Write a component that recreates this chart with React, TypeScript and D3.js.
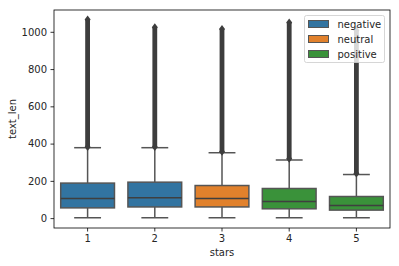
import * as React from 'react';
import { useEffect, useRef } from 'react';
import * as d3 from 'd3';

// Data
const stars = ['1', '2', '3', '4', '5'];
const hue = ['negative', 'negative', 'neutral', 'positive', 'positive'];
const whiskerLow = [2, 2, 2, 2, 2];
const q1 = [55, 60, 60, 50, 43];
const median = [105, 110, 105, 89, 68];
const q3 = [188, 193, 175, 159, 116];
const whiskerHigh = [378, 378, 351, 312, 234];
const flierMin = [382, 382, 356, 318, 240];
const flierMax = [1066, 1025, 1015, 1050, 1008];
const yTicks = [0, 200, 400, 600, 800, 1000];
const legendLabels = ['negative', 'neutral', 'positive'];
const colors: Record<string, string> = {
  negative: '#3274a1',
  neutral: '#e1812c',
  positive: '#3a923a',
};

const W = 399;
const H = 266;

const App: React.FC = () => {
  const svgRef = useRef<SVGSVGElement>(null);

  useEffect(() => {
    const svg = d3.select(svgRef.current);
    svg.selectAll('*').remove();

    const margin = { top: 10, right: 9, bottom: 38, left: 54 };
    const x = d3.scaleBand().domain(stars).range([margin.left, W - margin.right]).padding(0);
    const y = d3.scaleLinear().domain([-53, 1117]).range([H - margin.bottom, margin.top]);

    const font = 'DejaVu Sans, sans-serif';
    const edge = '#555555';
    const boxW = x.bandwidth() * 0.8;
    const capW = boxW / 2;

    const g = svg.append('g');

    stars.forEach((s, i) => {
      const cx = (x(s) ?? 0) + x.bandwidth() / 2;
      // whiskers
      g.append('line').attr('x1', cx).attr('x2', cx).attr('y1', y(q1[i])).attr('y2', y(whiskerLow[i]))
        .attr('stroke', edge).attr('stroke-width', 1.5);
      g.append('line').attr('x1', cx).attr('x2', cx).attr('y1', y(q3[i])).attr('y2', y(whiskerHigh[i]))
        .attr('stroke', edge).attr('stroke-width', 1.5);
      // caps
      [whiskerLow[i], whiskerHigh[i]].forEach(v => {
        g.append('line').attr('x1', cx - capW / 2).attr('x2', cx + capW / 2).attr('y1', y(v)).attr('y2', y(v))
          .attr('stroke', edge).attr('stroke-width', 1.5);
      });
      // fliers (dense diamonds form a solid bar)
      g.append('rect')
        .attr('x', cx - 2.4).attr('width', 4.8)
        .attr('y', y(flierMax[i])).attr('height', y(flierMin[i]) - y(flierMax[i]))
        .attr('fill', '#3d3d3d');
      [flierMin[i], flierMax[i]].forEach(v => {
        const py = y(v);
        g.append('path')
          .attr('d', `M${cx},${py - 4} L${cx + 3},${py} L${cx},${py + 4} L${cx - 3},${py} Z`)
          .attr('fill', '#3d3d3d');
      });
      // box
      g.append('rect')
        .attr('x', cx - boxW / 2).attr('width', boxW)
        .attr('y', y(q3[i])).attr('height', y(q1[i]) - y(q3[i]))
        .attr('fill', colors[hue[i]]).attr('stroke', edge).attr('stroke-width', 1.5);
      // median
      g.append('line').attr('x1', cx - boxW / 2).attr('x2', cx + boxW / 2).attr('y1', y(median[i])).attr('y2', y(median[i]))
        .attr('stroke', '#3f3f3f').attr('stroke-width', 1.5);
    });

    // axes
    const xAxis = svg.append('g').attr('transform', `translate(0,${H - margin.bottom})`)
      .call(d3.axisBottom(x).tickSize(3.5).tickPadding(3.5));
    const yAxis = svg.append('g').attr('transform', `translate(${margin.left},0)`)
      .call(d3.axisLeft(y).tickValues(yTicks).tickFormat(d3.format('d')).tickSize(3.5).tickPadding(3.5));
    [xAxis, yAxis].forEach(a => {
      a.select('.domain').remove();
      a.selectAll('line').attr('stroke', '#000').attr('stroke-width', 0.8);
      a.selectAll('text').attr('font-family', font).attr('font-size', 10).attr('fill', '#262626');
    });

    // frame
    svg.append('rect')
      .attr('x', margin.left).attr('y', margin.top)
      .attr('width', W - margin.left - margin.right).attr('height', H - margin.top - margin.bottom)
      .attr('fill', 'none').attr('stroke', '#000').attr('stroke-width', 0.8);

    // axis labels
    svg.append('text').attr('x', (margin.left + W - margin.right) / 2).attr('y', 256)
      .attr('text-anchor', 'middle').attr('font-family', font).attr('font-size', 10).attr('fill', '#262626')
      .text('stars');
    svg.append('text').attr('transform', `translate(16,${(margin.top + H - margin.bottom) / 2}) rotate(-90)`)
      .attr('text-anchor', 'middle').attr('font-family', font).attr('font-size', 10).attr('fill', '#262626')
      .text('text_len');

    // legend
    const lg = svg.append('g').attr('transform', 'translate(304.5,15.5)');
    lg.append('rect').attr('width', 80).attr('height', 47).attr('rx', 2)
      .attr('fill', 'white').attr('fill-opacity', 0.8).attr('stroke', '#cccccc').attr('stroke-width', 0.8);
    legendLabels.forEach((lab, i) => {
      const row = lg.append('g').attr('transform', `translate(0,${8.5 + i * 15})`);
      row.append('rect').attr('x', 4).attr('y', -3.5).attr('width', 20).attr('height', 7)
        .attr('fill', colors[lab]).attr('stroke', edge).attr('stroke-width', 1);
      row.append('text').attr('x', 33).attr('y', 3.5)
        .attr('font-family', font).attr('font-size', 10).attr('fill', '#262626').text(lab);
    });
  }, []);

  return (
    <svg ref={svgRef} width={W} height={H} style={{ position: 'absolute', left: 0, top: 0 }}></svg>
  );
};

export default App;
